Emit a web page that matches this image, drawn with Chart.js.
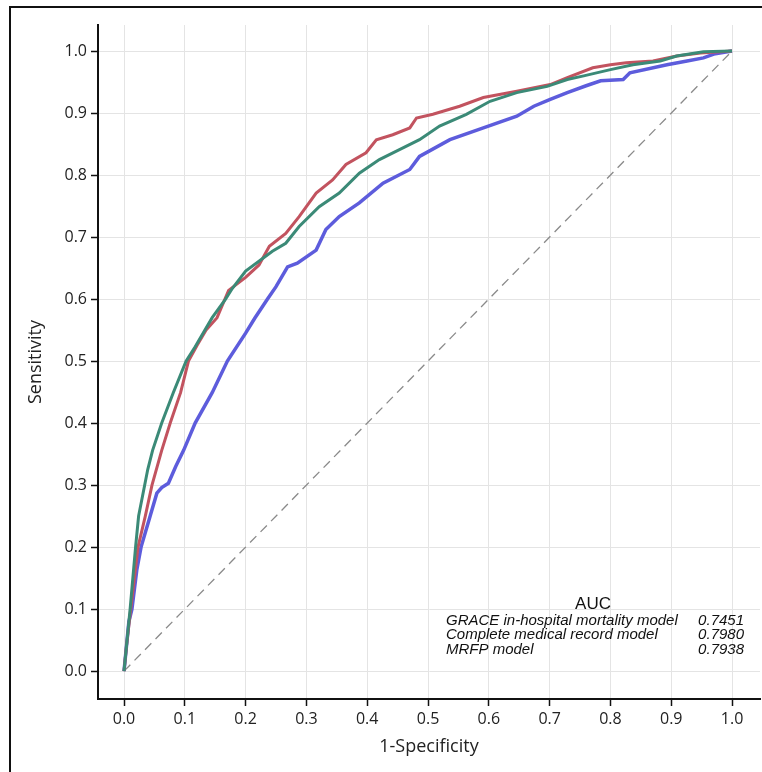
<!DOCTYPE html>
<html>
<head>
<meta charset="utf-8">
<title>ROC curves</title>
<script src="https://cdn.jsdelivr.net/npm/chart.js@4.4.1/dist/chart.umd.min.js"></script>
<style>
  html, body { margin: 0; padding: 0; background: #fff; }
  #wrap { position: relative; width: 762px; height: 772px; }
</style>
</head>
<body>
<div id="wrap"><canvas id="rocChart" width="762" height="772"></canvas></div>
<script>
// ROC data (1-specificity, sensitivity)
const graceFpr = [0, 0.004, 0.008, 0.013, 0.021, 0.028, 0.043, 0.054, 0.062, 0.073, 0.085, 0.098, 0.117, 0.145, 0.17, 0.2, 0.215, 0.236, 0.25, 0.269, 0.285, 0.316, 0.332, 0.354, 0.387, 0.426, 0.47, 0.486, 0.536, 0.591, 0.646, 0.674, 0.701, 0.729, 0.76, 0.784, 0.821, 0.832, 0.893, 0.926, 0.953, 0.97, 1];
const graceTpr = [0, 0.04, 0.08, 0.1, 0.163, 0.2, 0.25, 0.287, 0.296, 0.303, 0.33, 0.356, 0.4, 0.449, 0.5, 0.545, 0.569, 0.6, 0.62, 0.652, 0.658, 0.679, 0.712, 0.733, 0.755, 0.787, 0.809, 0.83, 0.857, 0.876, 0.895, 0.911, 0.922, 0.933, 0.944, 0.952, 0.954, 0.965, 0.978, 0.984, 0.989, 0.995, 1];

const completeFpr = [0, 0.004, 0.011, 0.023, 0.035, 0.046, 0.062, 0.076, 0.093, 0.106, 0.12, 0.135, 0.153, 0.172, 0.2, 0.222, 0.239, 0.266, 0.288, 0.316, 0.343, 0.365, 0.398, 0.415, 0.442, 0.47, 0.481, 0.508, 0.552, 0.591, 0.646, 0.701, 0.729, 0.771, 0.8, 0.826, 0.87, 0.909, 0.948, 1];
const completeTpr = [0, 0.04, 0.1, 0.2, 0.25, 0.3, 0.356, 0.4, 0.449, 0.5, 0.525, 0.55, 0.57, 0.614, 0.635, 0.655, 0.685, 0.706, 0.733, 0.771, 0.792, 0.817, 0.836, 0.857, 0.865, 0.876, 0.892, 0.898, 0.911, 0.925, 0.935, 0.946, 0.957, 0.973, 0.978, 0.981, 0.984, 0.992, 0.997, 1];

const mrfpFpr = [0, 0.004, 0.01, 0.019, 0.024, 0.034, 0.039, 0.047, 0.062, 0.081, 0.102, 0.117, 0.145, 0.167, 0.178, 0.2, 0.244, 0.266, 0.288, 0.321, 0.354, 0.387, 0.42, 0.453, 0.486, 0.519, 0.563, 0.602, 0.646, 0.696, 0.729, 0.756, 0.8, 0.837, 0.882, 0.909, 0.953, 1];
const mrfpTpr = [0, 0.04, 0.1, 0.2, 0.25, 0.3, 0.325, 0.356, 0.4, 0.449, 0.5, 0.523, 0.57, 0.6, 0.617, 0.645, 0.677, 0.69, 0.717, 0.749, 0.771, 0.803, 0.825, 0.841, 0.857, 0.879, 0.898, 0.919, 0.933, 0.943, 0.954, 0.96, 0.97, 0.978, 0.984, 0.992, 0.999, 1];

const refX = [0, 1];
const refY = [0, 1];

const tickValues = [0, 0.1, 0.2, 0.3, 0.4, 0.5, 0.6, 0.7, 0.8, 0.9, 1.0];

const modelNames = ['GRACE in-hospital mortality model', 'Complete medical record model', 'MRFP model'];
const aucValues = ['0.7451', '0.7980', '0.7938'];

function toPoints(xs, ys) {
  return xs.map((x, i) => ({ x: x, y: ys[i] }));
}

// outer frame (left + top rule) and the AUC box text
const decorPlugin = {
  id: 'decor',
  beforeDraw(chart) {
    const ctx = chart.ctx;
    ctx.save();
    ctx.fillStyle = '#fff';
    ctx.fillRect(0, 0, chart.width, chart.height);
    ctx.fillStyle = '#111';
    ctx.fillRect(9, 6, 2, chart.height - 6);
    ctx.fillRect(9, 6, chart.width - 9, 2);
    ctx.restore();
  },
  afterDraw(chart) {
    const ctx = chart.ctx;
    ctx.save();
    ctx.fillStyle = '#111';
    ctx.textBaseline = 'middle';
    ctx.font = '17px "Liberation Sans", Arial, sans-serif';
    ctx.textAlign = 'center';
    ctx.fillText('AUC', 593, 604);
    ctx.font = 'italic 15px "Liberation Sans", Arial, sans-serif';
    modelNames.forEach((name, i) => {
      const y = 621 + i * 14.3;
      ctx.textAlign = 'left';
      ctx.fillText(name, 446, y);
      ctx.textAlign = 'right';
      ctx.fillText(aucValues[i], 744, y);
    });
    ctx.restore();
  }
};

const tickFont = { family: '"Open Sans", sans-serif', size: 16 };
const titleFont = { family: '"Open Sans", sans-serif', size: 18 };

new Chart(document.getElementById('rocChart').getContext('2d'), {
  type: 'line',
  data: {
    datasets: [
      {
        label: modelNames[2],
        data: toPoints(mrfpFpr, mrfpTpr),
        borderColor: '#3b8a77',
        borderWidth: 3,
        pointRadius: 0,
        tension: 0
      },
      {
        label: modelNames[1],
        data: toPoints(completeFpr, completeTpr),
        borderColor: '#c2535f',
        borderWidth: 3,
        pointRadius: 0,
        tension: 0
      },
      {
        label: modelNames[0],
        data: toPoints(graceFpr, graceTpr),
        borderColor: '#5d5cdc',
        borderWidth: 3.5,
        pointRadius: 0,
        tension: 0
      },
      {
        label: 'reference',
        data: toPoints(refX, refY),
        borderColor: '#8a8a8a',
        borderWidth: 1.3,
        borderDash: [9, 6],
        pointRadius: 0,
        tension: 0
      }
    ]
  },
  options: {
    responsive: false,
    devicePixelRatio: 1,
    animation: false,
    layout: { padding: { left: 0, right: 2, top: 25, bottom: 0 } },
    plugins: {
      legend: { display: false },
      tooltip: { enabled: false }
    },
    scales: {
      x: {
        type: 'linear',
        min: -0.0428,
        max: 1.046,
        afterBuildTicks: scale => { scale.ticks = tickValues.map(v => ({ value: v })); },
        afterFit: scale => { scale.height = 73; },
        ticks: {
          font: tickFont,
          color: '#222',
          padding: 4,
          maxRotation: 0,
          callback: v => Number(v).toFixed(1)
        },
        grid: { color: '#e4e4e4', lineWidth: 1, tickColor: '#111', tickLength: 7, tickWidth: 1.5 },
        border: { display: true, color: '#111', width: 2 },
        title: { display: true, text: '1-Specificity', font: titleFont, color: '#222', padding: { top: 0, bottom: 14 } }
      },
      y: {
        type: 'linear',
        min: -0.045,
        max: 1.042,
        afterBuildTicks: scale => { scale.ticks = tickValues.map(v => ({ value: v })); },
        afterFit: scale => { scale.width = 98; },
        ticks: {
          font: tickFont,
          color: '#222',
          padding: 4,
          callback: v => Number(v).toFixed(1)
        },
        grid: { color: '#e4e4e4', lineWidth: 1, tickColor: '#111', tickLength: 7, tickWidth: 1.5 },
        border: { display: true, color: '#111', width: 2 },
        title: { display: true, text: 'Sensitivity', font: titleFont, color: '#222', padding: { top: 25, bottom: 0 } }
      }
    }
  },
  plugins: [decorPlugin]
});
</script>
</body>
</html>
